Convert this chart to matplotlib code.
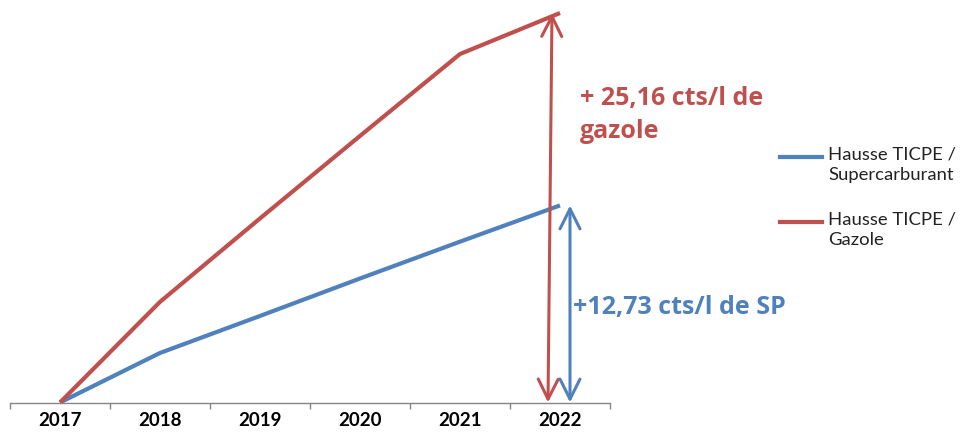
import matplotlib
matplotlib.use("Agg")
import matplotlib.pyplot as plt
from matplotlib.lines import Line2D
from matplotlib.ticker import FixedLocator

plt.rcParams['font.family'] = ['Lato', 'DejaVu Sans']

years = ["2017", "2018", "2019", "2020", "2021", "2022"]
sp_values = [0.0, 3.20, 5.59, 8.01, 10.39, 12.73]
gazole_values = [0.0, 6.50, 11.89, 17.22, 22.51, 25.16]
series_names = ["Hausse TICPE /\nSupercarburant", "Hausse TICPE /\nGazole"]
sp_total = 12.73
gazole_total = 25.16
sp_label = "+12,73 cts/l de SP"
gazole_label = "+ 25,16 cts/l de\ngazole"

BLUE = "#4F81BD"
RED = "#C0504D"

W, H = 962, 432
fig = plt.figure(figsize=(W / 100, H / 100), dpi=100)
ax = fig.add_axes([10 / W, 29.5 / H, 600 / W, 402.5 / H])

x = list(range(len(years)))
ax.plot(x, sp_values, color=BLUE, lw=3.0, solid_capstyle="butt", clip_on=False)
ax.plot(x, gazole_values, color=RED, lw=3.0, solid_capstyle="butt", clip_on=False)

ax.set_xlim(-0.5, len(years) - 0.5)
ax.set_ylim(0, 26)

for side in ("left", "right", "top"):
    ax.spines[side].set_visible(False)
ax.spines["bottom"].set_color("#868686")
ax.spines["bottom"].set_linewidth(1.0)
ax.set_yticks([])

ax.set_xticks(x)
ax.set_xticklabels(years, fontsize=13.5, fontweight="bold", color="black")
ax.tick_params(axis="x", which="major", length=0, pad=7)
ax.xaxis.set_minor_locator(FixedLocator([i - 0.5 for i in range(len(years) + 1)]))
ax.tick_params(axis="x", which="minor", length=4, width=1.0, color="#868686", direction="out")

# Double arrows showing the total increase over the period
arrow_style = "<->,head_length=0.9,head_width=0.45"
ax.annotate("", xy=(4.92, gazole_total), xytext=(4.88, 0),
            arrowprops=dict(arrowstyle=arrow_style, color=RED, lw=2.2,
                            shrinkA=0, shrinkB=0, mutation_scale=16),
            annotation_clip=False)
ax.annotate("", xy=(5.10, sp_total), xytext=(5.10, 0),
            arrowprops=dict(arrowstyle=arrow_style, color=BLUE, lw=2.2,
                            shrinkA=0, shrinkB=0, mutation_scale=16),
            annotation_clip=False)

note_font = ['Open Sans', 'DejaVu Sans']
ax.text(5.20, 18.6, gazole_label, color=RED, fontsize=18, fontweight="bold",
        family=note_font, ha="left", va="center", linespacing=1.42, clip_on=False)
ax.text(5.13, 6.15, sp_label, color=BLUE, fontsize=18, fontweight="bold",
        family=note_font, ha="left", va="center", clip_on=False)

# Legend entries drawn beside the plot
legend_rows = [(157, BLUE, series_names[0]), (222, RED, series_names[1])]
for ypx, col, name in legend_rows:
    yf = 1 - ypx / H
    fig.add_artist(Line2D([780 / W, 822 / W], [yf, yf], color=col, lw=3.0,
                          transform=fig.transFigure))
    fig.text(828 / W, yf + 10 / H, name, fontsize=13.3, color="#222222",
             ha="left", va="top", linespacing=1.3)

fig.savefig("out.png", dpi=100)
